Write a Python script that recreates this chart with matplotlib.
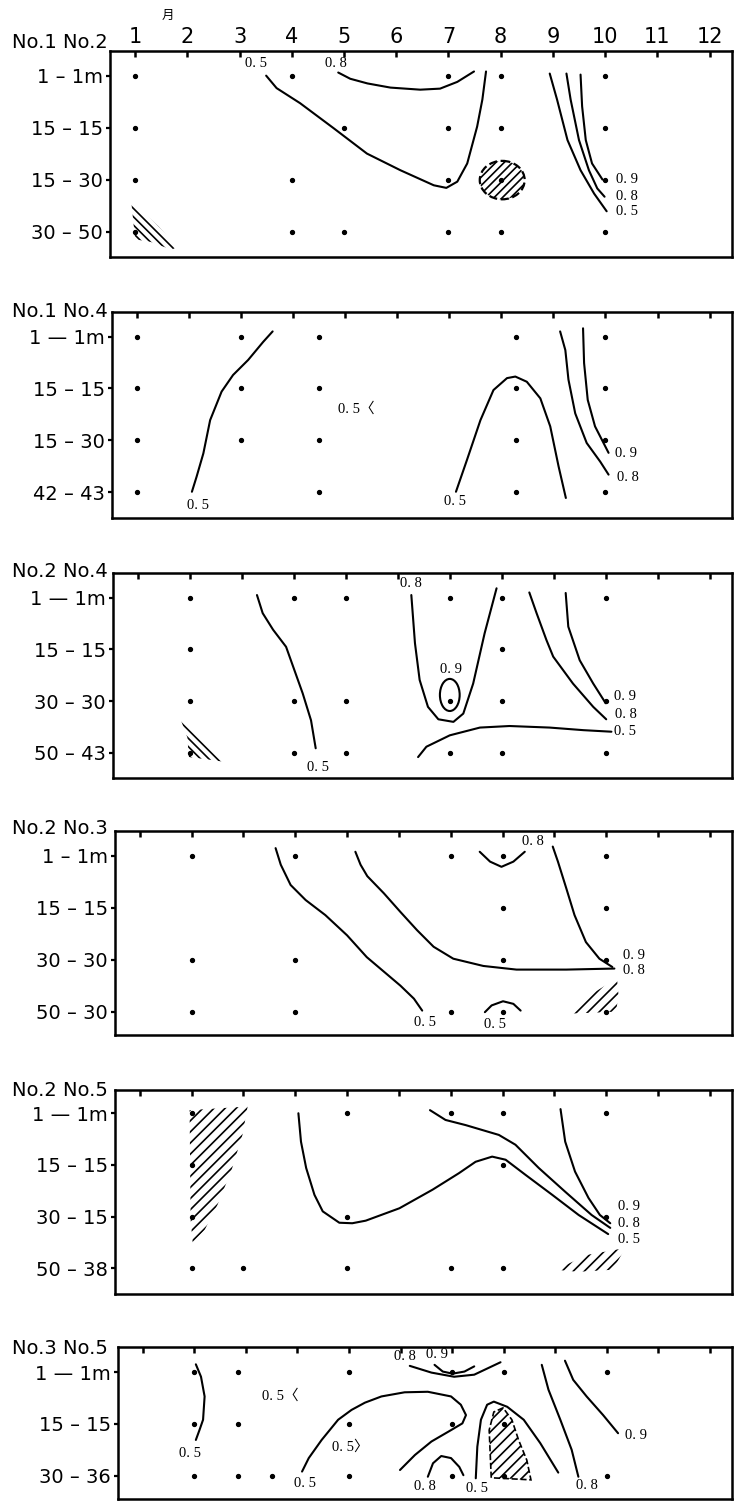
import matplotlib.pyplot as plt
from matplotlib.patches import Polygon, Ellipse

plt.rcParams['hatch.linewidth'] = 1.2

SERIF = ['Liberation Serif', 'Noto Sans CJK JP']

months = list(range(1, 13))
month_labels = [str(m) for m in months]

# ---------------- No.1 No.2
p1_title = "No.1 No.2"
p1_rows = ["1 – 1m", "15 – 15", "15 – 30", "30 – 50"]
p1_dots = [[1, 4, 7, 8, 10], [1, 5, 7, 8, 10], [1, 4, 7, 8, 10], [1, 4, 5, 7, 8, 10]]
p1_lines = [
    ([3.51, 3.71, 4.16, 4.80, 5.44, 6.08, 6.72, 6.96, 7.17, 7.36, 7.55, 7.65, 7.72],
     [0.0, 0.24, 0.53, 1.01, 1.50, 1.82, 2.11, 2.16, 2.04, 1.69, 0.98, 0.46, -0.08]),
    ([4.89, 5.12, 5.45, 5.89, 6.46, 6.84, 7.17, 7.49],
     [-0.06, 0.06, 0.15, 0.23, 0.27, 0.25, 0.12, -0.08]),
    ([8.94, 9.08, 9.28, 9.53, 9.79, 10.03], [-0.04, 0.46, 1.24, 1.82, 2.27, 2.61]),
    ([9.26, 9.34, 9.50, 9.69, 9.85, 9.99], [-0.04, 0.46, 1.24, 1.82, 2.17, 2.33]),
    ([9.53, 9.56, 9.63, 9.75, 9.95], [-0.02, 0.59, 1.24, 1.69, 2.00]),
]
p1_labels = [("0. 5", 3.31, -0.23), ("0. 8", 4.84, -0.23),
             ("0. 9", 10.41, 2.00), ("0. 8", 10.41, 2.32), ("0. 5", 10.41, 2.62)]
p1_hatch_m = [0.93, 1.12, 1.45, 1.80, 1.70, 1.30, 1.00]
p1_hatch_r = [2.45, 2.60, 2.90, 3.30, 3.35, 3.20, 3.15]
p1_blob = (8.03, 2.01, 0.86, 0.74)

# ---------------- No.1 No.4
p2_title = "No.1 No.4"
p2_rows = ["1 — 1m", "15 – 15", "15 – 30", "42 – 43"]
p2_dots = [[1, 3, 4.5, 8.28, 10], [1, 3, 4.5, 8.28, 10], [1, 3, 4.5, 8.28, 10], [1, 4.5, 8.28, 10]]
p2_lines = [
    ([3.61, 3.43, 3.14, 2.85, 2.63, 2.41, 2.28, 2.15, 2.06],
     [-0.10, 0.10, 0.45, 0.74, 1.06, 1.61, 2.25, 2.70, 2.99]),
    ([7.13, 7.34, 7.60, 7.85, 8.11, 8.27, 8.49, 8.75, 8.94, 9.10, 9.24],
     [2.99, 2.38, 1.61, 1.03, 0.80, 0.77, 0.87, 1.19, 1.73, 2.50, 3.11]),
    ([9.13, 9.23, 9.29, 9.42, 9.64, 9.90, 10.06], [-0.10, 0.26, 0.83, 1.48, 2.05, 2.41, 2.66]),
    ([9.57, 9.59, 9.66, 9.80, 10.06], [-0.16, 0.51, 1.22, 1.73, 2.24]),
]
p2_labels = [("0. 5", 2.18, 3.26), ("0. 5〈", 5.22, 1.40), ("0. 5", 7.12, 3.18),
             ("0. 9", 10.40, 2.26), ("0. 8", 10.43, 2.71)]

# ---------------- No.2 No.4
p3_title = "No.2 No.4"
p3_rows = ["1 — 1m", "15 – 15", "30 – 30", "50 – 43"]
p3_dots = [[2, 4, 5, 7, 8, 10], [2, 8], [2, 4, 5, 7, 8, 10], [2, 4, 5, 7, 8, 10]]
p3_lines = [
    ([3.29, 3.40, 3.60, 3.85, 4.01, 4.17, 4.33, 4.42],
     [-0.05, 0.30, 0.62, 0.95, 1.40, 1.85, 2.37, 2.91]),
    ([6.26, 6.33, 6.42, 6.58, 6.78, 7.07, 7.26, 7.45, 7.67, 7.90],
     [-0.05, 0.88, 1.59, 2.11, 2.35, 2.40, 2.24, 1.66, 0.69, -0.18]),
    ([8.53, 8.67, 8.86, 8.99, 9.37, 9.76, 10.01], [-0.10, 0.30, 0.82, 1.14, 1.66, 2.11, 2.35]),
    ([9.23, 9.28, 9.50, 9.76, 10.00], [-0.09, 0.56, 1.21, 1.66, 2.04]),
    ([6.39, 6.55, 7.00, 7.58, 8.15, 8.92, 9.57, 10.11],
     [3.08, 2.88, 2.66, 2.51, 2.48, 2.51, 2.56, 2.59]),
]
p3_labels = [("0. 5", 4.46, 3.28), ("0. 8", 6.26, -0.28), ("0. 9", 7.03, 1.38),
             ("0. 9", 10.38, 1.91), ("0. 8", 10.38, 2.25), ("0. 5", 10.38, 2.59)]
p3_hatch_m = [1.82, 2.05, 2.35, 2.65, 2.30, 1.98, 1.95]
p3_hatch_r = [2.35, 2.55, 2.85, 3.17, 3.12, 3.08, 2.70]
p3_loop = (7.0, 1.88, 0.38, 0.62)

# ---------------- No.2 No.3
p4_title = "No.2 No.3"
p4_rows = ["1 – 1m", "15 – 15", "30 – 30", "50 – 30"]
p4_dots = [[2, 4, 7, 8, 10], [8, 10], [2, 4, 8, 10], [2, 4, 7, 8, 10]]
p4_lines = [
    ([3.62, 3.72, 3.91, 4.20, 4.58, 5.00, 5.38, 5.64, 6.03, 6.29, 6.45],
     [-0.15, 0.17, 0.56, 0.85, 1.14, 1.53, 1.95, 2.17, 2.50, 2.75, 2.98]),
    ([5.16, 5.26, 5.39, 5.71, 6.03, 6.35, 6.67, 7.05, 7.63, 8.27, 9.23, 10.16],
     [-0.08, 0.17, 0.39, 0.72, 1.08, 1.43, 1.75, 1.98, 2.12, 2.19, 2.19, 2.17]),
    ([8.97, 9.07, 9.23, 9.39, 9.61, 9.87, 10.12], [-0.18, 0.11, 0.62, 1.14, 1.66, 1.98, 2.14]),
    ([7.56, 7.76, 7.98, 8.21, 8.43], [-0.08, 0.11, 0.21, 0.11, -0.08]),
    ([7.66, 7.79, 8.01, 8.21, 8.35], [3.01, 2.88, 2.80, 2.85, 2.98]),
]
p4_labels = [("0. 5", 6.51, 3.21), ("0. 8", 8.59, -0.28), ("0. 9", 10.53, 1.91),
             ("0. 8", 10.54, 2.21), ("0. 5", 7.85, 3.24)]
p4_hatch_m = [9.23, 9.67, 10.21, 10.24, 10.19, 9.77]
p4_hatch_r = [3.04, 2.69, 2.36, 2.69, 3.00, 3.02]

# ---------------- No.2 No.5
p5_title = "No.2 No.5"
p5_rows = ["1 — 1m", "15 – 15", "30 – 15", "50 – 38"]
p5_dots = [[2, 5, 7, 8, 10], [2, 8], [2, 5, 10], [2, 3, 5, 7, 8]]
p5_lines = [
    ([4.06, 4.11, 4.21, 4.37, 4.53, 4.85, 5.10, 5.36, 6.01, 6.65, 7.16, 7.48, 7.80, 8.06,
      8.44, 8.96, 9.47, 10.04],
     [0.00, 0.55, 1.06, 1.58, 1.90, 2.12, 2.13, 2.08, 1.84, 1.48, 1.16, 0.94, 0.84, 0.90,
      1.19, 1.58, 1.97, 2.34]),
    ([6.60, 6.90, 7.29, 7.93, 8.25, 8.70, 9.21, 9.72, 10.08],
     [-0.06, 0.13, 0.23, 0.42, 0.61, 1.06, 1.52, 1.97, 2.22]),
    ([9.12, 9.21, 9.40, 9.66, 9.88, 10.08], [-0.08, 0.55, 1.13, 1.64, 1.97, 2.13]),
]
p5_labels = [("0. 9", 10.45, 1.81), ("0. 8", 10.45, 2.13), ("0. 5", 10.45, 2.45)]
p5_hatch_m = [1.96, 3.08, 2.98, 2.77, 2.50, 2.25, 2.02, 1.98]
p5_hatch_r = [-0.06, -0.13, 0.42, 1.10, 1.77, 2.26, 2.51, 2.06]
p5_hatch2_m = [9.02, 9.65, 10.37, 10.13, 9.46]
p5_hatch2_r = [3.03, 2.74, 2.61, 3.03, 3.07]

# ---------------- No.3 No.5
p6_title = "No.3 No.5"
p6_rows = ["1 — 1m", "15 – 15", "30 – 36"]
p6_dots = [[2, 2.84, 5, 7, 8, 10], [2, 2.84, 5, 7, 8], [2, 2.84, 3.5, 5, 7, 8, 10]]
p6_lines = [
    ([2.03, 2.13, 2.20, 2.17, 2.10, 2.03], [-0.15, 0.09, 0.47, 0.92, 1.12, 1.31]),
    ([4.09, 4.22, 4.47, 4.79, 5.05, 5.31, 5.63, 6.08, 6.53, 6.98, 7.17, 7.27, 7.20, 6.98,
      6.60, 6.28, 5.99],
     [1.92, 1.66, 1.31, 0.92, 0.73, 0.59, 0.47, 0.39, 0.38, 0.47, 0.63, 0.83, 0.99, 1.12,
      1.34, 1.60, 1.89]),
    ([6.18, 6.60, 7.04, 7.43, 7.94], [-0.12, 0.01, 0.09, 0.05, -0.19]),
    ([6.66, 6.82, 7.01, 7.24, 7.43], [-0.14, -0.01, 0.03, -0.01, -0.11]),
    ([6.53, 6.63, 6.79, 6.98, 7.14, 7.22], [2.02, 1.76, 1.62, 1.66, 1.83, 1.99]),
    ([7.46, 7.49, 7.56, 7.68, 7.81, 8.07, 8.39, 8.71, 9.06],
     [2.05, 1.44, 0.92, 0.63, 0.57, 0.67, 0.92, 1.37, 1.94]),
    ([8.74, 8.87, 9.10, 9.32, 9.45], [-0.14, 0.34, 0.92, 1.50, 2.02]),
    ([9.19, 9.35, 9.61, 9.93, 10.22], [-0.22, 0.15, 0.47, 0.83, 1.18]),
]
p6_labels = [("0. 5", 1.91, 1.58), ("0. 5〈", 3.67, 0.46), ("0. 5〉", 5.02, 1.44),
             ("0. 5", 4.15, 2.15), ("0. 8", 6.08, -0.30), ("0. 9", 6.71, -0.33),
             ("0. 8", 6.47, 2.20), ("0. 5", 7.49, 2.24), ("0. 8", 9.61, 2.18),
             ("0. 9", 10.57, 1.23)]
p6_hatch_m = [7.76, 7.72, 7.81, 7.99, 8.16, 8.29, 8.45, 8.53]
p6_hatch_r = [2.04, 1.12, 0.77, 0.69, 0.92, 1.31, 1.70, 2.08]

# layout: pixel box (left, top, bottom), ylim, title offset
W, H = 734, 1501
panels = [
    dict(title=p1_title, rows=p1_rows, dots=p1_dots, lines=p1_lines, labels=p1_labels,
         hatches=[(p1_hatch_m, p1_hatch_r, '\\\\\\\\', 'none')],
         ellipses=[(p1_blob, '////', '--')],
         box=(110, 50.7, 257), ylim=(3.49, -0.48), tdy=8),
    dict(title=p2_title, rows=p2_rows, dots=p2_dots, lines=p2_lines, labels=p2_labels,
         hatches=[], ellipses=[], box=(111.7, 311.7, 517.7), ylim=(3.49, -0.48), tdy=0),
    dict(title=p3_title, rows=p3_rows, dots=p3_dots, lines=p3_lines, labels=p3_labels,
         hatches=[(p3_hatch_m, p3_hatch_r, '\\\\\\\\', 'none')],
         ellipses=[(p3_loop, None, '-')],
         box=(113, 573.3, 778.3), ylim=(3.49, -0.47), tdy=2),
    dict(title=p4_title, rows=p4_rows, dots=p4_dots, lines=p4_lines, labels=p4_labels,
         hatches=[(p4_hatch_m, p4_hatch_r, '///', 'none')], ellipses=[],
         box=(115, 831, 1035), ylim=(3.45, -0.48), tdy=3),
    dict(title=p5_title, rows=p5_rows, dots=p5_dots, lines=p5_lines, labels=p5_labels,
         hatches=[(p5_hatch_m, p5_hatch_r, '///', 'none'),
                  (p5_hatch2_m, p5_hatch2_r, '///', 'none')], ellipses=[],
         box=(115, 1090, 1294), ylim=(3.50, -0.45), tdy=0),
    dict(title=p6_title, rows=p6_rows, dots=p6_dots, lines=p6_lines, labels=p6_labels,
         hatches=[(p6_hatch_m, p6_hatch_r, '///', '--')], ellipses=[],
         box=(118, 1346.7, 1498.5), ylim=(2.44, -0.49), tdy=-2),
]

fig = plt.figure(figsize=(W / 100, H / 100), dpi=100)

for i, p in enumerate(panels):
    left, top, bottom = p['box']
    right = 732
    ax = fig.add_axes([left / W, 1 - bottom / H, (right - left) / W, (bottom - top) / H])
    ax.set_xlim(0.52, 12.43)
    ax.set_ylim(*p['ylim'])
    for s in ax.spines.values():
        s.set_linewidth(1.8)

    ax.set_xticks(months)
    ax.xaxis.set_ticks_position('top')
    ax.tick_params(axis='x', direction='in', length=4, width=1.8, top=True, bottom=False,
                   labeltop=(i == 0), labelbottom=False, labelsize=15, pad=3)
    if i == 0:
        ax.set_xticklabels(month_labels)
    nrow = len(p['rows'])
    ax.set_yticks(range(nrow))
    ax.set_yticklabels(p['rows'], fontsize=14)
    ax.tick_params(axis='y', direction='out', length=3, width=1.6, pad=2, right=False)

    for xs, ys, pat, ls in p['hatches']:
        ax.add_patch(Polygon(list(zip(xs, ys)), closed=True, fill=False, hatch=pat,
                             edgecolor='black', lw=(0 if ls == 'none' else 1.2),
                             ls=('-' if ls == 'none' else ls), zorder=1))
    for (cx, cy, w, h), pat, ls in p['ellipses']:
        ax.add_patch(Ellipse((cx, cy), w, h, fill=False, hatch=pat, edgecolor='black',
                             lw=(1.6 if ls == '--' else 1.5), ls=ls, zorder=1))

    for xs, ys in p['lines']:
        ax.plot(xs, ys, color='black', lw=1.5, solid_capstyle='round',
                solid_joinstyle='round', zorder=2)
    for r, ms in enumerate(p['dots']):
        ax.plot(ms, [r] * len(ms), 'o', color='black', markersize=2.8, zorder=3)
    for txt, x, y in p['labels']:
        ax.text(x, y, txt, ha='center', va='center', fontsize=10.5, family=SERIF, zorder=4)

    fig.text(108 / W, 1 - (top - p['tdy']) / H, p['title'], ha='right', va='center',
             fontsize=14)

fig.text(168 / W, 1 - 15 / H, "月", ha='center', va='center', fontsize=9,
         family=['Noto Sans CJK JP', 'DejaVu Sans'])

fig.savefig('out.png', dpi=100)
